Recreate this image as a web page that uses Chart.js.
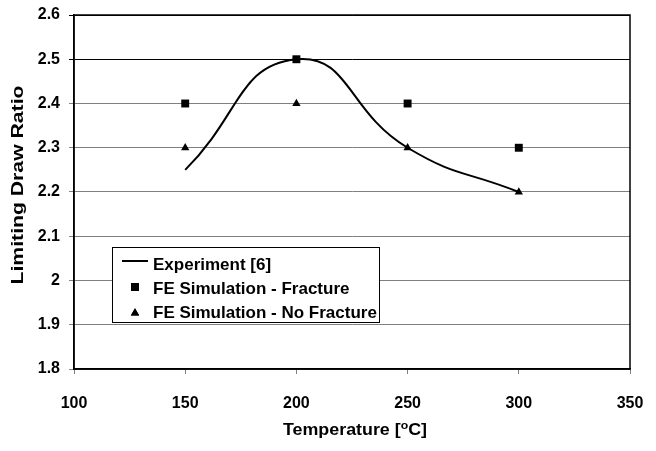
<!DOCTYPE html>
<html><head><meta charset="utf-8">
<script src="https://cdn.jsdelivr.net/npm/chart.js@4/dist/chart.umd.min.js"></script>
<style>html,body{margin:0;padding:0;background:#fff}</style>
</head><body>
<canvas id="c" width="656" height="451" style="width:656px;height:451px;display:block"></canvas>
<script>
const temperatures = [150, 200, 250, 300];
const experiment = [2.25, 2.5, 2.3, 2.2];
const feFracture = [2.4, 2.5, 2.4, 2.3];
const feNoFracture = [2.3, 2.4, 2.3, 2.2];
const xTicks = [100, 150, 200, 250, 300, 350];
const yTicks = [1.8, 1.9, 2, 2.1, 2.2, 2.3, 2.4, 2.5, 2.6];
const seriesLabels = ['Experiment [6]', 'FE Simulation - Fracture', 'FE Simulation - No Fracture'];
const xTitleParts = ['Temperature [', 'o', 'C]'];
const yTitle = 'Limiting Draw Ratio';

const FONT = '"Liberation Sans", Arial, sans-serif';
Chart.defaults.font.family = FONT;
Chart.defaults.color = '#000';

const pts = ys => temperatures.map((t, i) => ({x: t, y: ys[i]}));

const framePlugin = {
  id: 'frame',
  beforeDatasetsDraw(chart) {
    const {ctx, chartArea: a} = chart;
    ctx.save();
    ctx.strokeStyle = '#000';
    ctx.lineWidth = 1.5;
    ctx.strokeRect(a.left, a.top, a.right - a.left, a.bottom - a.top);
    ctx.restore();
  }
};

const titlesPlugin = {
  id: 'titles',
  afterDraw(chart) {
    const {ctx, chartArea: a} = chart;
    ctx.save();
    ctx.fillStyle = '#000';
    ctx.textBaseline = 'middle';
    // y title, stretched along its length
    ctx.font = 'bold 16px ' + FONT;
    const yw = ctx.measureText(yTitle).width;
    const yLen = 199;
    ctx.save();
    ctx.translate(19, (a.top + a.bottom) / 2 - 7);
    ctx.rotate(-Math.PI / 2);
    ctx.scale(yLen / yw, 1);
    ctx.textAlign = 'center';
    ctx.fillText(yTitle, 0, 0);
    ctx.restore();
    // x title with superscript
    ctx.font = 'bold 16px ' + FONT;
    const w1 = ctx.measureText(xTitleParts[0]).width;
    ctx.font = 'bold 11px ' + FONT;
    const w2 = ctx.measureText(xTitleParts[1]).width;
    ctx.font = 'bold 16px ' + FONT;
    const w3 = ctx.measureText(xTitleParts[2]).width;
    const total = w1 + w2 + w3;
    const target = 144;
    const cx = (a.left + a.right) / 2 + 3, cy = 431;
    ctx.save();
    ctx.translate(cx, cy);
    ctx.scale(target / total, 1);
    ctx.textAlign = 'left';
    let x = -total / 2;
    ctx.font = 'bold 16px ' + FONT;
    ctx.fillText(xTitleParts[0], x, 0); x += w1;
    ctx.font = 'bold 11px ' + FONT;
    ctx.fillText(xTitleParts[1], x, -5); x += w2;
    ctx.font = 'bold 16px ' + FONT;
    ctx.fillText(xTitleParts[2], x, 0);
    ctx.restore();
    ctx.restore();
  }
};

const legendPlugin = {
  id: 'boxLegend',
  afterDatasetsDraw(chart) {
    const {ctx, chartArea: a} = chart;
    const x0 = a.left + 38, y0 = a.top + 232, w = 267, h = 75;
    ctx.save();
    ctx.fillStyle = '#fff';
    ctx.fillRect(x0, y0, w, h);
    ctx.strokeStyle = '#000';
    ctx.lineWidth = 1;
    ctx.strokeRect(x0 + 0.5, y0 + 0.5, w, h);
    ctx.font = 'bold 17px ' + FONT;
    ctx.textBaseline = 'alphabetic';
    ctx.fillStyle = '#000';
    const base = [y0 + 23, y0 + 47, y0 + 71];
    const mark = [y0 + 14, y0 + 40, y0 + 66];
    chart.data.datasets.forEach((ds, i) => {
      if (i === 0) {
        ctx.beginPath();
        ctx.moveTo(x0 + 10, mark[i]); ctx.lineTo(x0 + 36, mark[i]);
        ctx.lineWidth = 2; ctx.strokeStyle = '#000'; ctx.stroke();
      } else {
        Chart.helpers.drawPoint(ctx, {pointStyle: ds.pointStyle, radius: ds.pointRadius, borderWidth: 0, rotation: 0}, x0 + 23, mark[i]);
        ctx.fillStyle = '#000';
        ctx.fill();
      }
      ctx.fillStyle = '#000';
      ctx.fillText(ds.label, x0 + 41, base[i]);
    });
    ctx.restore();
  }
};

new Chart(document.getElementById('c'), {
  type: 'scatter',
  data: {
    datasets: [
      {label: seriesLabels[0], data: pts(experiment), showLine: true, borderColor: '#000', borderWidth: 2,
       pointRadius: 0, tension: 0.5, fill: false},
      {label: seriesLabels[1], data: pts(feFracture), pointStyle: 'rect', pointRadius: 5.6,
       backgroundColor: '#000', borderColor: '#000', borderWidth: 0, showLine: false},
      {label: seriesLabels[2], data: pts(feNoFracture), pointStyle: 'triangle', pointRadius: 4.8,
       backgroundColor: '#000', borderColor: '#000', borderWidth: 0, showLine: false}
    ]
  },
  options: {
    responsive: false,
    animation: false,
    layout: {padding: {top: 15, right: 26, bottom: 0, left: 0}},
    plugins: {legend: {display: false}, tooltip: {enabled: false}},
    scales: {
      x: {
        type: 'linear', min: 100, max: 350,
        afterBuildTicks: s => { s.ticks = xTicks.map(v => ({value: v})); },
        afterFit: s => { s.height = 82; s.paddingRight = 0; s.paddingLeft = 0; },
        grid: {drawOnChartArea: false, tickLength: 5, color: '#808080'},
        border: {color: '#000', width: 1.5},
        ticks: {font: {size: 16, weight: 'bold'}, padding: 20, color: '#000', maxRotation: 0},
        title: {display: false}
      },
      y: {
        type: 'linear', min: 1.8, max: 2.6,
        afterBuildTicks: s => { s.ticks = yTicks.map(v => ({value: v})); },
        afterFit: s => { s.width = 74; s.paddingTop = 0; s.paddingBottom = 0; },
        grid: {tickLength: 5, color: c => (c.tick && c.tick.value >= 2.5) ? '#000' : '#808080', lineWidth: 1},
        border: {color: '#000', width: 1.5},
        ticks: {font: {size: 16, weight: 'bold'}, padding: 9, color: '#000', callback: v => String(Math.round(v * 10) / 10)},
        title: {display: false}
      }
    }
  },
  plugins: [framePlugin, legendPlugin, titlesPlugin]
});
</script>
</body></html>
